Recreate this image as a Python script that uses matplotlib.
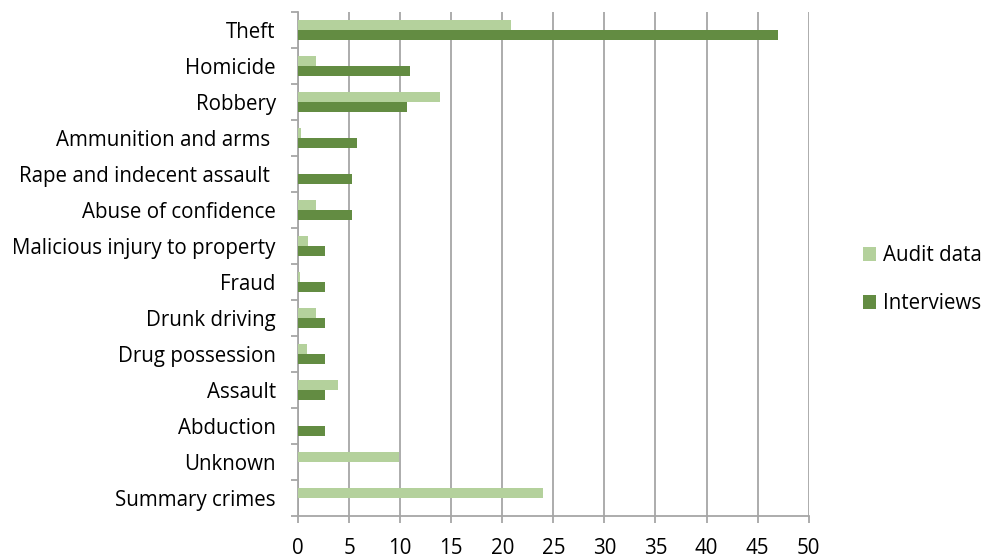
import matplotlib.pyplot as plt
from matplotlib.ticker import MultipleLocator, FixedLocator
import numpy as np

plt.rcParams['font.family'] = ['Open Sans', 'DejaVu Sans']

categories = ['Theft', 'Homicide', 'Robbery', 'Ammunition and arms ',
              'Rape and indecent assault ', 'Abuse of confidence',
              'Malicious injury to property', 'Fraud', 'Drunk driving',
              'Drug possession', 'Assault', 'Abduction', 'Unknown',
              'Summary crimes']
audit_data = [20.9, 1.8, 13.9, 0.3, 0, 1.8, 1.0, 0.2, 1.8, 0.9, 3.9, 0, 9.9, 24.0]
interviews = [47.0, 11.0, 10.7, 5.8, 5.3, 5.3, 2.6, 2.6, 2.6, 2.6, 2.6, 2.6, 0, 0]

light_green = '#b4d19c'
dark_green = '#638c42'
grid_grey = '#a6a6a6'
fs = 14.8

fig = plt.figure(figsize=(9.85, 5.59), dpi=100)
ax = fig.add_axes([0.3025, 0.077, 0.5185, 0.9015])

y = np.arange(len(categories))
h = 0.29
ax.barh(y - h / 2, audit_data, height=h, color=light_green, label='Audit data', zorder=3)
ax.barh(y + h / 2, interviews, height=h, color=dark_green, label='Interviews', zorder=3)

ax.set_ylim(len(categories) - 0.5, -0.5)
ax.set_xlim(0, 50)
ax.xaxis.set_major_locator(MultipleLocator(5))
ax.grid(axis='x', color=grid_grey, linewidth=1.3, zorder=0)

ax.set_yticks(y)
ax.set_yticklabels(categories)
ax.yaxis.set_minor_locator(FixedLocator(np.arange(-0.5, len(categories), 1)))
ax.tick_params(axis='y', which='major', length=0, pad=16, labelsize=fs, colors='black')
ax.tick_params(axis='y', which='minor', length=5, color=grid_grey, width=1.3)
ax.tick_params(axis='x', length=5, color=grid_grey, width=1.3, labelsize=fs, pad=11)

for side in ['top', 'right']:
    ax.spines[side].set_visible(False)
for side in ['left', 'bottom']:
    ax.spines[side].set_color(grid_grey)
    ax.spines[side].set_linewidth(1.3)

fig.legend(loc='center left', bbox_to_anchor=(0.857, 0.5), frameon=False,
           fontsize=fs, handlelength=0.65, handleheight=0.65, handletextpad=0.35,
           labelspacing=1.3)

fig.savefig('out.png', dpi=100)
